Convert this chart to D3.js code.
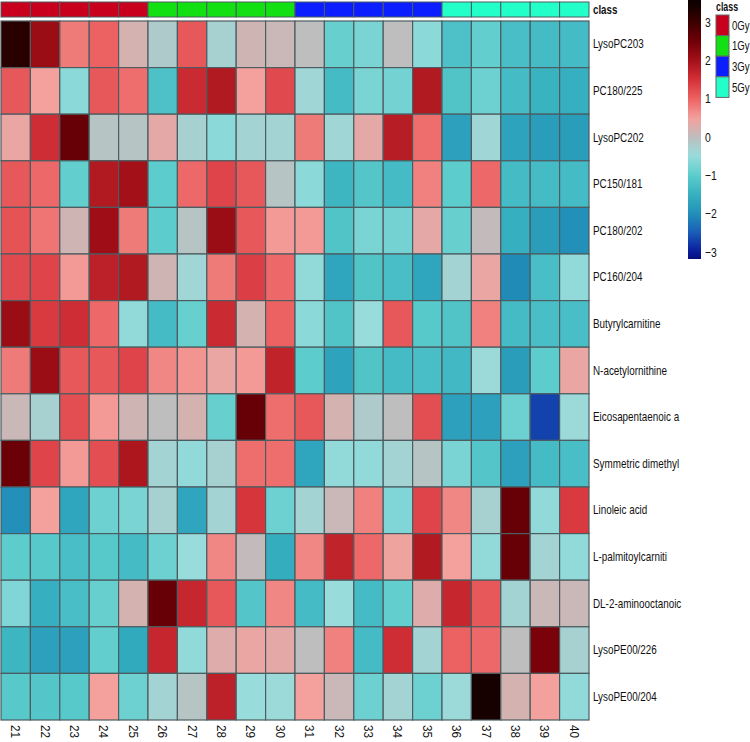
<!DOCTYPE html>
<html>
<head>
<meta charset="utf-8">
<script src="https://cdn.jsdelivr.net/npm/d3@7"></script>
<style>
  body { margin: 0; background: #fff; }
  svg text { font-family: "Liberation Sans", Arial, sans-serif; fill: #111; }
  .domain { display: none; }
</style>
</head>
<body>
<div id="chart"></div>
<script>
const width = 750;
const height = 742;

// samples along the bottom, with their class
const samples = ['21','22','23','24','25','26','27','28','29','30','31','32','33','34','35','36','37','38','39','40'];
const sampleClass = ['0Gy','0Gy','0Gy','0Gy','0Gy','1Gy','1Gy','1Gy','1Gy','1Gy','3Gy','3Gy','3Gy','3Gy','3Gy','5Gy','5Gy','5Gy','5Gy','5Gy'];
const classNames = ['0Gy', '1Gy', '3Gy', '5Gy'];
const classColors = ['#c8001e', '#12e012', '#0a1eff', '#22ffc8'];

const features = ['LysoPC203', 'PC180/225', 'LysoPC202', 'PC150/181', 'PC180/202', 'PC160/204',
  'Butyrylcarnitine', 'N-acetylornithine', 'Eicosapentaenoic a', 'Symmetric dimethyl',
  'Linoleic acid', 'L-palmitoylcarniti', 'DL-2-aminooctanoic', 'LysoPE00/226', 'LysoPE00/204'];

// scaled values, one list per feature (samples 21..40)
const zScores = [
  [3.2, 2.1, 0.8, 1.0, 0.2, -0.2, 1.1, -0.3, 0.15, 0.1, 0.0, -0.9, -0.75, 0.0, -0.6, -1.2, -0.95, -1.25, -1.3, -1.3],
  [1.1, 0.5, -0.6, 1.1, 0.9, -1.2, 1.6, 1.85, 0.5, 1.25, -0.4, -1.3, -0.75, -0.8, 1.85, -1.15, -0.85, -1.3, -1.45, -1.5],
  [0.4, 1.55, 2.6, -0.1, -0.1, 0.35, -0.3, -0.6, -0.35, -0.35, 0.8, -0.4, 0.35, 1.8, 0.9, -1.75, -0.4, -1.7, -1.8, -1.8],
  [1.1, 0.95, -0.95, 1.85, 2.0, -1.0, 0.95, 1.3, 1.1, -0.1, -0.6, -1.4, -1.1, -1.3, 0.75, -1.0, 0.95, -1.3, -1.3, -1.3],
  [1.15, 0.85, 0.15, 2.05, 0.8, -1.0, -0.1, 2.1, 1.1, 0.55, 0.55, -1.15, -0.75, -0.8, 0.35, -0.9, 0.05, -1.5, -1.8, -2.0],
  [1.25, 1.3, 0.55, 1.75, 1.85, 0.15, -0.4, 0.8, 1.35, 0.95, -0.55, -1.65, -1.15, -1.25, -1.65, -0.35, 0.4, -2.05, -1.25, -0.55],
  [2.1, 1.4, 1.55, 0.95, -0.55, -1.3, -0.9, 1.6, 0.2, 1.0, -0.6, -1.15, -0.5, 1.1, -1.05, -1.15, 0.75, -1.3, -1.25, -1.25],
  [0.8, 2.1, 1.1, 1.1, 1.3, 0.7, 0.6, 0.4, 0.55, 1.7, -1.0, -1.7, -1.15, -1.3, -1.25, -1.35, -0.45, -1.8, -1.0, 0.4],
  [0.1, -0.3, 1.2, 0.55, 0.15, 0.0, 0.2, -0.9, 2.6, 0.9, 1.1, 0.2, -0.2, 0.0, 1.2, -1.75, -1.75, -0.85, -2.7, -0.45],
  [2.55, 1.3, 0.55, 1.2, 1.9, -0.35, -0.55, -0.3, 0.9, 0.9, -1.65, -0.55, -0.55, -0.35, -0.1, -0.75, -1.1, -1.75, -1.3, -1.25],
  [-2.0, 0.5, -1.65, -0.85, -0.75, -0.3, -1.65, -0.35, 1.45, -0.85, -0.35, 0.1, 0.75, -0.7, 1.3, 0.7, -0.3, 2.6, -0.55, 1.4],
  [-1.0, -1.05, -1.25, -1.05, -1.3, -0.85, -0.5, 0.7, 0.05, -1.55, 0.7, 1.7, 0.95, 0.45, 1.85, 0.5, -0.55, 2.6, -0.35, -0.55],
  [-0.7, -1.5, -1.25, -0.9, 0.2, 2.6, 1.65, 1.1, -1.1, 0.7, -1.3, -0.5, -1.3, -0.95, 0.3, 1.65, 1.1, -0.35, 0.1, 0.1],
  [-1.4, -1.75, -1.75, -0.95, -1.6, 1.65, -0.55, 0.3, 0.4, 0.35, 0.0, 0.75, -1.3, 1.55, -0.35, 1.0, 0.95, 0.0, 2.4, -0.3],
  [-1.05, -1.1, -1.05, 0.5, -0.85, -0.35, -0.1, 1.75, -0.5, -0.45, 0.5, 0.1, -0.85, -0.35, -0.85, -0.45, 3.4, 0.2, 0.5, -0.55]
];

// colour ramp (value stops and colours)
const rampStops = [-3.5, -3, -2.5, -2, -1.5, -1, -0.5, 0, 0.5, 1, 1.5, 2, 2.5, 3, 3.5];
const rampColors = ['#000040', '#0a1a9c', '#1a5cb8', '#2290b8', '#36b0c0', '#5ccccc', '#98dcdc', '#bebebe',
  '#f4a09c', '#ec6262', '#d43038', '#a41018', '#700008', '#3c0000', '#0c0000'];
const legendTicks = [3, 2, 1, 0, -1, -2, -3];

const color = d3.scaleLinear().domain(rampStops).range(rampColors).clamp(true);
const classColor = d3.scaleOrdinal().domain(classNames).range(classColors);

// squeeze text horizontally (the original uses a narrow font)
function narrow(sel, k) {
  sel.each(function () {
    const t = d3.select(this);
    const x0 = +t.attr('x') || 0;
    t.attr('x', x0 / k).attr('transform', (t.attr('transform') || '') + ` scale(${k},1)`);
  });
}

const svg = d3.select('#chart').append('svg').attr('width', width).attr('height', height);

// Heatmap ==========================================================
const x = d3.scaleBand().domain(samples).range([1, 589]);
const y = d3.scaleBand().domain(features).range([21, 720]);
const gridStroke = '#4c5c60';

// class bar on top
svg.append('g')
  .selectAll('rect')
  .data(samples)
  .join('rect')
  .attr('x', (d) => x(d))
  .attr('y', 2)
  .attr('width', x.bandwidth())
  .attr('height', 15)
  .attr('fill', (d, i) => classColor(sampleClass[i]))
  .attr('stroke', gridStroke)
  .attr('stroke-width', 1);

svg.append('text')
  .attr('x', 593)
  .attr('y', 14)
  .attr('font-size', 13)
  .attr('font-weight', 'bold')
  .text('class')
  .call(narrow, 0.75);

const cells = [];
zScores.forEach((row, r) => {
  row.forEach((v, c) => cells.push({ feature: features[r], sample: samples[c], value: v }));
});

svg.append('g')
  .selectAll('rect')
  .data(cells)
  .join('rect')
  .attr('x', (d) => x(d.sample))
  .attr('y', (d) => y(d.feature))
  .attr('width', x.bandwidth())
  .attr('height', y.bandwidth())
  .attr('fill', (d) => color(d.value))
  .attr('stroke', gridStroke)
  .attr('stroke-width', 1.2);

// row labels
svg.append('g')
  .attr('transform', 'translate(589,0)')
  .call(d3.axisRight(y).tickSize(0).tickPadding(4))
  .selectAll('text')
  .attr('font-size', 13)
  .call(narrow, 0.76);

// sample labels, rotated
svg.append('g')
  .attr('transform', 'translate(0,720)')
  .call(d3.axisBottom(x).tickSize(0).tickPadding(0))
  .selectAll('text')
  .attr('font-size', 13)
  .attr('text-anchor', 'start')
  .attr('transform', 'rotate(90)')
  .attr('x', 5)
  .attr('y', 0)
  .attr('dy', '0.35em')
  .call(narrow, 0.9);

// Colour legend ====================================================
const ly = d3.scaleLinear().domain([0, 1]).range([137, 98.7]);
const barTop = 0;
const barBottom = 259;
const defs = svg.append('defs');
const grad = defs.append('linearGradient')
  .attr('id', 'ramp')
  .attr('x1', 0).attr('y1', 0).attr('x2', 0).attr('y2', 1);
const vTop = ly.invert(barTop);
const vBottom = ly.invert(barBottom);
d3.range(0, 1.0001, 0.02).forEach((t) => {
  grad.append('stop')
    .attr('offset', t)
    .attr('stop-color', color(vTop + (vBottom - vTop) * t));
});

svg.append('rect')
  .attr('x', 688)
  .attr('y', barTop)
  .attr('width', 13)
  .attr('height', barBottom - barTop)
  .attr('fill', 'url(#ramp)');

svg.append('g')
  .attr('transform', 'translate(701,0)')
  .call(d3.axisRight(ly).tickValues(legendTicks).tickSize(0).tickPadding(4).tickFormat(d3.format('d')))
  .selectAll('text')
  .attr('font-size', 13)
  .call(narrow, 0.8);

// Class legend
svg.append('text')
  .attr('x', 716)
  .attr('y', 11)
  .attr('font-size', 13)
  .attr('font-weight', 'bold')
  .text('class')
  .call(narrow, 0.68);

const legend = svg.append('g')
  .selectAll('g')
  .data(classNames)
  .join('g')
  .attr('transform', (d, i) => `translate(716,${15 + i * 20.6})`);

legend.append('rect')
  .attr('width', 13)
  .attr('height', 20.6)
  .attr('fill', (d) => classColor(d))
  .attr('stroke', '#666')
  .attr('stroke-width', 1);

legend.append('text')
  .attr('x', 16)
  .attr('y', 10.3)
  .attr('dy', '0.35em')
  .attr('font-size', 13)
  .text((d) => d)
  .call(narrow, 0.74);
</script>
</body>
</html>
